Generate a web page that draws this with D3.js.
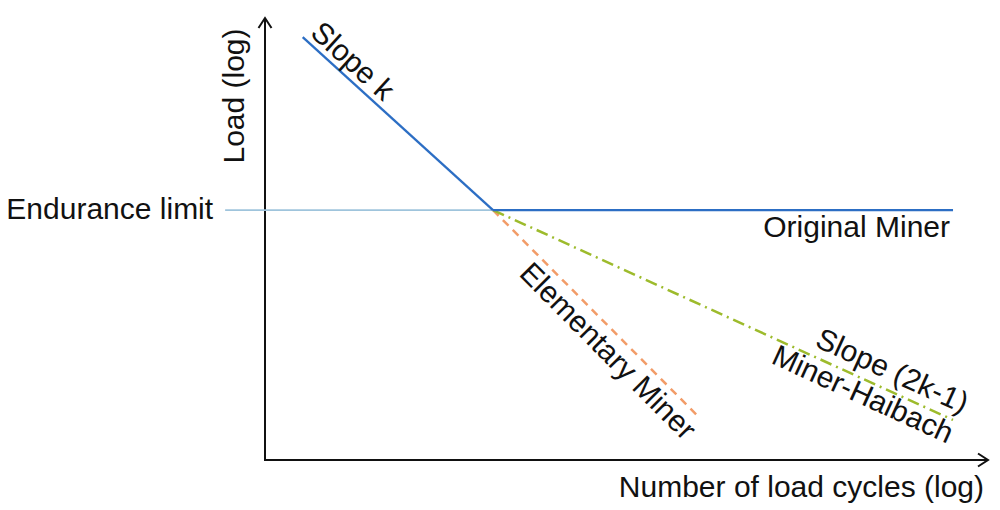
<!DOCTYPE html>
<html>
<head>
<meta charset="utf-8">
<script src="https://cdn.jsdelivr.net/npm/d3@7"></script>
<style>
  html, body { margin: 0; padding: 0; background: #fff; }
  svg text { font-family: "Liberation Sans", Arial, sans-serif; fill: #111; }
</style>
</head>
<body>
<svg id="chart" width="1000" height="510"></svg>
<script>
// Abstract log-scale units (log N on x, log S on y)
const slopeK          = [[0.52, 9.61], [3.145, 5.68]];
const originalMiner   = [[3.145, 5.68], [9.49, 5.68]];
const enduranceLimit  = [[-0.55, 5.68], [3.145, 5.68]];
const elementaryMiner = [[3.145, 5.68], [6.0, 0.95]];
const minerHaibach    = [[3.145, 5.68], [9.49, 0.91]];

const axisLabels = { x: "Number of load cycles (log)", y: "Load (log)" };
const lineLabels = ["Slope k", "Original Miner", "Endurance limit", "Elementary Miner", "Slope (2k-1)", "Miner-Haibach"];

const svg = d3.select("#chart");
const x = d3.scaleLinear().domain([0, 10]).range([265, 990]);
const y = d3.scaleLinear().domain([0, 10]).range([460, 20]);
const line = d3.line().x(d => x(d[0])).y(d => y(d[1]));

// Axes with open arrowheads
const ax = svg.append("g").attr("stroke", "#111").attr("stroke-width", 2).attr("fill", "none");
const x0 = x.range()[0], y0 = y.range()[0];
const xEnd = x.range()[1] - 2, yEnd = y.range()[1] - 2;
ax.append("path").attr("d", `M${x0},${y0 + 1}V${yEnd}`);
ax.append("path").attr("d", `M${x0 - 1},${y0}H${xEnd}`);
ax.append("path").attr("stroke-linejoin", "miter").attr("d", `M${x0 - 6.5},${yEnd + 10}L${x0},${yEnd}L${x0 + 6.5},${yEnd + 10}`);
ax.append("path").attr("stroke-linejoin", "miter").attr("d", `M${xEnd - 10},${y0 - 6.5}L${xEnd},${y0}L${xEnd - 10},${y0 + 6.5}`);

// Lines
svg.append("path").datum(enduranceLimit).attr("d", line)
  .attr("fill", "none").attr("stroke", "#9fc4dc").attr("stroke-width", 1.6);
svg.append("path").datum(elementaryMiner).attr("d", line)
  .attr("fill", "none").attr("stroke", "#f29c68").attr("stroke-width", 2.5)
  .attr("stroke-dasharray", "8,6");
svg.append("path").datum(minerHaibach).attr("d", line)
  .attr("fill", "none").attr("stroke", "#9dbb2c").attr("stroke-width", 2.5)
  .attr("stroke-dasharray", "12,5,2,5");
svg.append("path").datum(slopeK).attr("d", line)
  .attr("fill", "none").attr("stroke", "#2c6ec4").attr("stroke-width", 2.3);
svg.append("path").datum(originalMiner).attr("d", line)
  .attr("fill", "none").attr("stroke", "#2c6ec4").attr("stroke-width", 2.3);

const FS = 30;

// Label placed along a line segment
function alongLabel(seg, text, along, offset) {
  const p0 = [x(seg[0][0]), y(seg[0][1])], p1 = [x(seg[1][0]), y(seg[1][1])];
  const dx = p1[0] - p0[0], dy = p1[1] - p0[1], len = Math.hypot(dx, dy);
  const ang = Math.atan2(dy, dx) * 180 / Math.PI;
  const px = p0[0] + dx / len * along, py = p0[1] + dy / len * along;
  svg.append("text")
    .attr("transform", `translate(${px},${py}) rotate(${ang})`)
    .attr("text-anchor", "middle").attr("y", offset)
    .attr("font-size", FS).text(text);
}

alongLabel(slopeK, lineLabels[0], 53, -6);
alongLabel(elementaryMiner, lineLabels[3], 181, 28);
alongLabel(minerHaibach, lineLabels[4], 430, -9.5);
alongLabel(minerHaibach, lineLabels[5], 413, 24);

// Original Miner: right-aligned under its line end
svg.append("text").attr("x", x(originalMiner[1][0]) - 3).attr("y", y(originalMiner[1][1]) + 27)
  .attr("text-anchor", "end").attr("font-size", FS).text(lineLabels[1]);

// Endurance limit: left of the thin line
svg.append("text").attr("x", x(enduranceLimit[0][0]) - 12).attr("y", y(enduranceLimit[0][1]) + 9)
  .attr("text-anchor", "end").attr("font-size", FS).text(lineLabels[2]);

// Axis titles
svg.append("text").attr("x", 984).attr("y", 497).attr("text-anchor", "end")
  .attr("font-size", FS).text(axisLabels.x);
svg.append("text").attr("transform", `translate(244,96) rotate(-90)`)
  .attr("text-anchor", "middle").attr("font-size", FS).text(axisLabels.y);
</script>
</body>
</html>
